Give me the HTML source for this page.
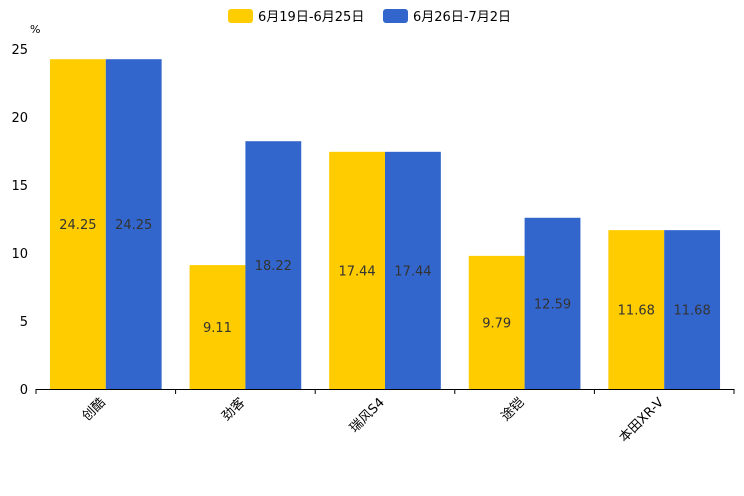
<!DOCTYPE html>
<html><head><meta charset="utf-8">
<style>body{margin:0;background:#fff}svg{display:block;font-family:"DejaVu Sans","Noto Sans CJK SC",sans-serif}</style>
</head><body>
<svg id="c" width="744" height="496"></svg>
<script>
const categories=["创酷","劲客","瑞风S4","途铠","本田XR-V"];
const seriesA=[24.25,9.11,17.44,9.79,11.68];
const seriesB=[24.25,18.22,17.44,12.59,11.68];
const yTicks=[0,5,10,15,20,25];
const seriesNames=["6月19日-6月25日","6月26日-7月2日"];
const colors=["#ffcc00","#3366cc"];
const NS="http://www.w3.org/2000/svg";
const svg=document.getElementById('c');
const X0=36,X1=734,Y0=389,Y1=49,YMAX=25;
const band=(X1-X0)/categories.length;
const y=v=>Y0-(v/YMAX)*(Y0-Y1);
function mk(t,a,txt){const e=document.createElementNS(NS,t);for(const k in a)e.setAttribute(k,a[k]);if(txt!=null)e.textContent=txt;svg.appendChild(e);return e;}
yTicks.forEach(t=>{
 const e=mk('text',{x:28,y:y(t)+5,'text-anchor':'end','font-size':13,fill:'#000'},t);
 
 
});
const u=mk('text',{x:30,y:33,'font-size':11,fill:'#000'},'%');


[seriesA,seriesB].forEach((s,si)=>{
 s.forEach((v,i)=>{
  const bw=band*0.4,bx=X0+band*i+band*0.1+si*bw;
  const r=mk('rect',{x:bx,y:y(v),width:bw,height:Y0-y(v),fill:colors[si]});
  
  
  const l=mk('text',{x:bx+bw/2,y:(y(v)+Y0)/2+5,'text-anchor':'middle','font-size':13,fill:'#333'},v.toFixed(2));
  
  
 });
});
const ax=mk('line',{x1:X0,x2:X1,y1:Y0+0.5,y2:Y0+0.5,stroke:'#000','stroke-width':1});


for(let i=0;i<=categories.length;i++){
 const t=mk('line',{x1:X0+band*i,x2:X0+band*i,y1:Y0,y2:Y0+5,stroke:'#000'});
 
 
}
categories.forEach((c,i)=>{
 const cx=X0+band*(i+0.5),cy=Y0+14;
 const t=mk('text',{x:cx,y:cy,'text-anchor':'end','font-size':13,fill:'#000',transform:`rotate(-45 ${cx} ${cy})`},c);
 
 
});
const lx=[228,383];
seriesNames.forEach((n,i)=>{
 const r=mk('rect',{x:lx[i],y:9,width:25,height:14,rx:3,fill:colors[i]});
 
 
 const t=mk('text',{x:lx[i]+30,y:21,'font-size':13,fill:'#000'},n);
 
 
});
</script>
</body></html>
